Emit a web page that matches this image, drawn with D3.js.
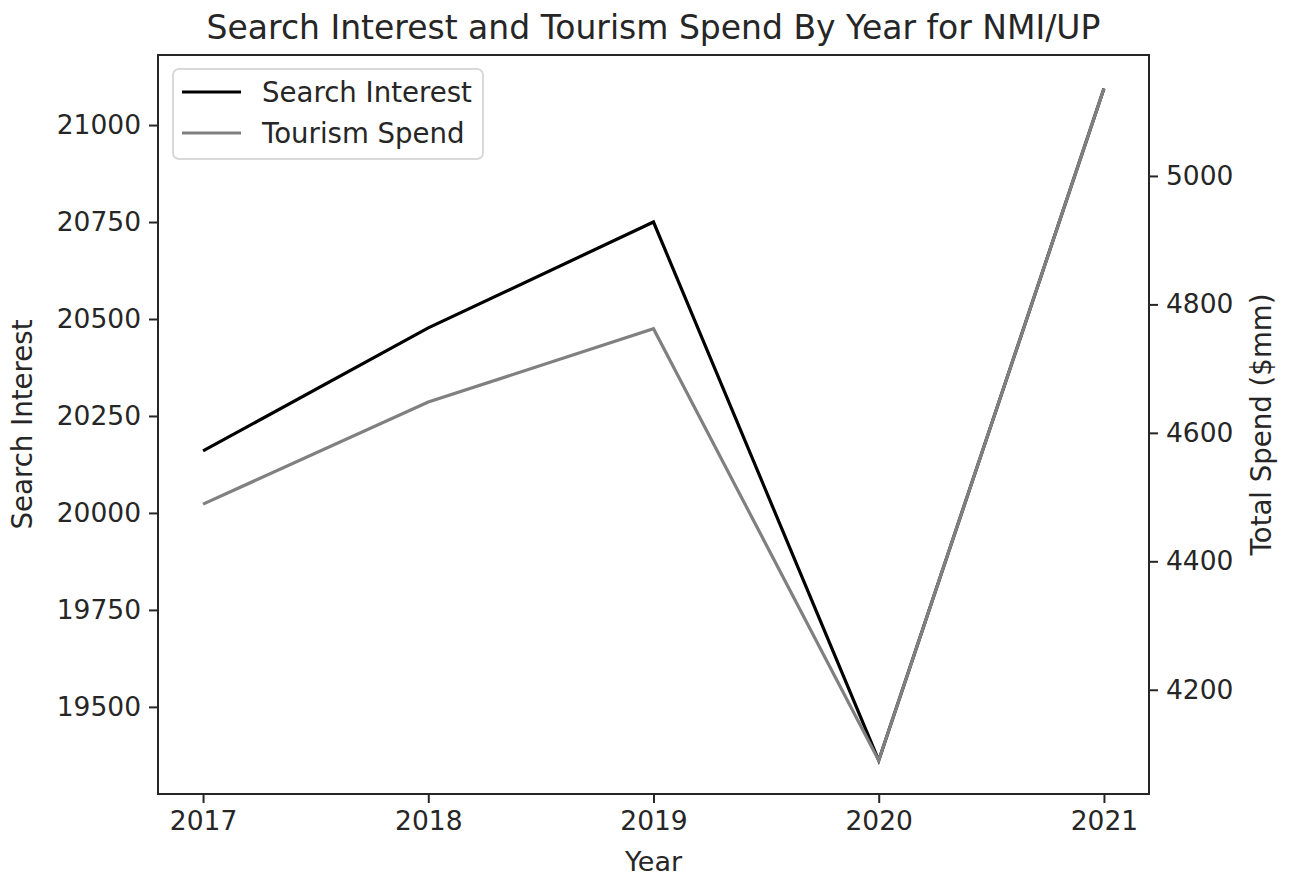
<!DOCTYPE html>
<html lang="en">
<head>
<meta charset="utf-8">
<title>Search Interest and Tourism Spend</title>
<script src="https://d3js.org/d3.v7.min.js"></script>
<style>
  body { margin: 0; background: #fff; }
  svg text { font-family: "DejaVu Sans", sans-serif; fill: #262626; }
</style>
</head>
<body>
<div id="chart"></div>
<script>
// data
var years = [2017, 2018, 2019, 2020, 2021];
var searchInterest = [20160, 20477, 20750, 19362, 21094];
var tourismSpend = [4489, 4648, 4762, 4090, 5136];
var leftTicks = [19500, 19750, 20000, 20250, 20500, 20750, 21000];
var rightTicks = [4200, 4400, 4600, 4800, 5000];

var W = 1289, H = 882;
var margin = {top: 55, right: 140, bottom: 88, left: 158};
var width = 1149 - margin.left, height = 794 - margin.top;

var svg = d3.select("#chart").append("svg")
  .attr("width", W).attr("height", H);

var main = svg.append("g")
  .attr("transform", "translate(" + margin.left + "," + margin.top + ")");

function padded(vals) {
  var e = d3.extent(vals), p = (e[1] - e[0]) * 0.05;
  return [e[0] - p, e[1] + p];
}
var yrPad = (years[years.length - 1] - years[0]) * 0.05;
var x = d3.scaleLinear().domain([years[0] - yrPad, years[years.length - 1] + yrPad]).range([0, width]);
var yL = d3.scaleLinear().domain(padded(searchInterest)).range([height, 0]);
var yR = d3.scaleLinear().domain(padded(tourismSpend)).range([height, 0]);

var fs = 26.5, lfs = 27.6;
function styleAxis(g) {
  g.select(".domain").remove();
  g.selectAll(".tick line").attr("stroke", "#262626").attr("stroke-width", 2);
  g.selectAll(".tick text").style("font-size", fs + "px").attr("fill", "#262626");
}

main.append("g").attr("transform", "translate(0," + height + ")")
  .call(d3.axisBottom(x).tickValues(years).tickFormat(d3.format("d")).tickSize(9).tickPadding(8))
  .call(styleAxis);
main.append("g")
  .call(d3.axisLeft(yL).tickValues(leftTicks).tickFormat(d3.format("d")).tickSize(9).tickPadding(8))
  .call(styleAxis);
main.append("g").attr("transform", "translate(" + width + ",0)")
  .call(d3.axisRight(yR).tickValues(rightTicks).tickFormat(d3.format("d")).tickSize(9).tickPadding(8))
  .call(styleAxis);

// lines
var lineL = d3.line().x(function (d, i) { return x(years[i]); }).y(function (d) { return yL(d); });
var lineR = d3.line().x(function (d, i) { return x(years[i]); }).y(function (d) { return yR(d); });

main.append("path").datum(searchInterest).attr("d", lineL)
  .attr("fill", "none").attr("stroke", "#000").attr("stroke-width", 3.2)
  .attr("stroke-linejoin", "miter");
main.append("path").datum(tourismSpend).attr("d", lineR)
  .attr("fill", "none").attr("stroke", "#808080").attr("stroke-width", 3.2)
  .attr("stroke-linejoin", "miter");

// frame
main.append("rect").attr("width", width).attr("height", height)
  .attr("fill", "none").attr("stroke", "#262626").attr("stroke-width", 2);

// legend
var leg = main.append("g").attr("transform", "translate(15,14)");
leg.append("rect").attr("width", 310).attr("height", 90).attr("rx", 6)
  .attr("fill", "#fff").attr("fill-opacity", 0.8)
  .attr("stroke", "#d9d9d9").attr("stroke-width", 2);
var items = [["Search Interest", "#000"], ["Tourism Spend", "#808080"]];
items.forEach(function (it, i) {
  var cy = 23 + i * 41;
  leg.append("line").attr("x1", 9).attr("x2", 68).attr("y1", cy).attr("y2", cy)
    .attr("stroke", it[1]).attr("stroke-width", 3.2);
  leg.append("text").attr("x", 89).attr("y", cy).attr("dy", "0.35em")
    .style("font-size", lfs + "px").text(it[0]);
});

// titles
svg.append("text").attr("x", margin.left + width / 2).attr("y", 27).attr("dy", "0.35em")
  .attr("text-anchor", "middle").style("font-size", "33px")
  .text("Search Interest and Tourism Spend By Year for NMI/UP");
svg.append("text").attr("x", margin.left + width / 2).attr("y", 862).attr("dy", "0.35em")
  .attr("text-anchor", "middle").style("font-size", "27px").text("Year");
svg.append("text").attr("transform", "translate(22," + (margin.top + height / 2) + ") rotate(-90)")
  .attr("dy", "0.35em").attr("text-anchor", "middle").style("font-size", lfs + "px")
  .text("Search Interest");
svg.append("text").attr("transform", "translate(1261," + (margin.top + height / 2) + ") rotate(-90)")
  .attr("dy", "0.35em").attr("text-anchor", "middle").style("font-size", lfs + "px")
  .text("Total Spend ($mm)");
</script>
</body>
</html>
